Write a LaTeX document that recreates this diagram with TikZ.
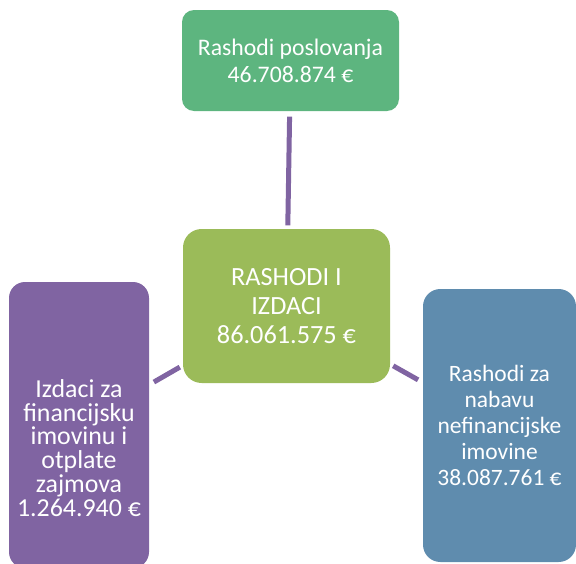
\documentclass[tikz,border=0pt]{standalone}
\usepackage{fontspec}
\setmainfont{Carlito}
\usepackage{tikz}

\definecolor{poslgreen}{HTML}{5DB57F}
\definecolor{totalgreen}{HTML}{9BBB59}
\definecolor{finpurple}{HTML}{8064A2}
\definecolor{nefinblue}{HTML}{5F8CAE}
\definecolor{linkpurple}{HTML}{8064A2}

\begin{document}
\begin{tikzpicture}[x=0.75pt,y=-0.75pt,
    box/.style={rectangle, rounded corners=12pt, text=white, align=center, inner sep=2pt},
    link/.style={draw=linkpurple, line width=3.75pt, shorten <=2.5pt, shorten >=4pt}]
  % Frame
  \useasboundingbox (0,0) rectangle (576,564);

  % Nodes
  \node[box, fill=totalgreen, rounded corners=14pt, minimum width=155.25pt, minimum height=115.5pt,
        font=\fontsize{19.7}{21.8}\selectfont] (total) at (286.5,306)
        {RASHODI I\\IZDACI\\86.061.575 €};
  \node[box, fill=poslgreen, rounded corners=9pt, minimum width=162.75pt, minimum height=75.75pt,
        font=\fontsize{17.8}{20.3}\selectfont] (poslovni) at (290.5,60.5)
        {Rashodi poslovanja\\46.708.874 €};
  \node[box, fill=finpurple, minimum width=105pt, minimum height=214.5pt,
        font=\fontsize{19.4}{17.9}\selectfont] (financijski) at (79,425)
        {\rule{0pt}{48pt}Izdaci za\\financijsku\\imovinu i\\otplate\\zajmova\\1.264.940 €};
  \node[box, fill=nefinblue, rounded corners=13pt, minimum width=114.75pt, minimum height=204.75pt,
        font=\fontsize{17.6}{19.5}\selectfont] (nefinancijski) at (499.5,425.5)
        {Rashodi za\\nabavu\\nefinancijske\\imovine\\38.087.761 €};

  % Lines
  \draw[link] (total) -- (poslovni);
  \draw[link] (total) -- (financijski);
  \draw[link] (total) -- (nefinancijski);
\end{tikzpicture}
\end{document}
